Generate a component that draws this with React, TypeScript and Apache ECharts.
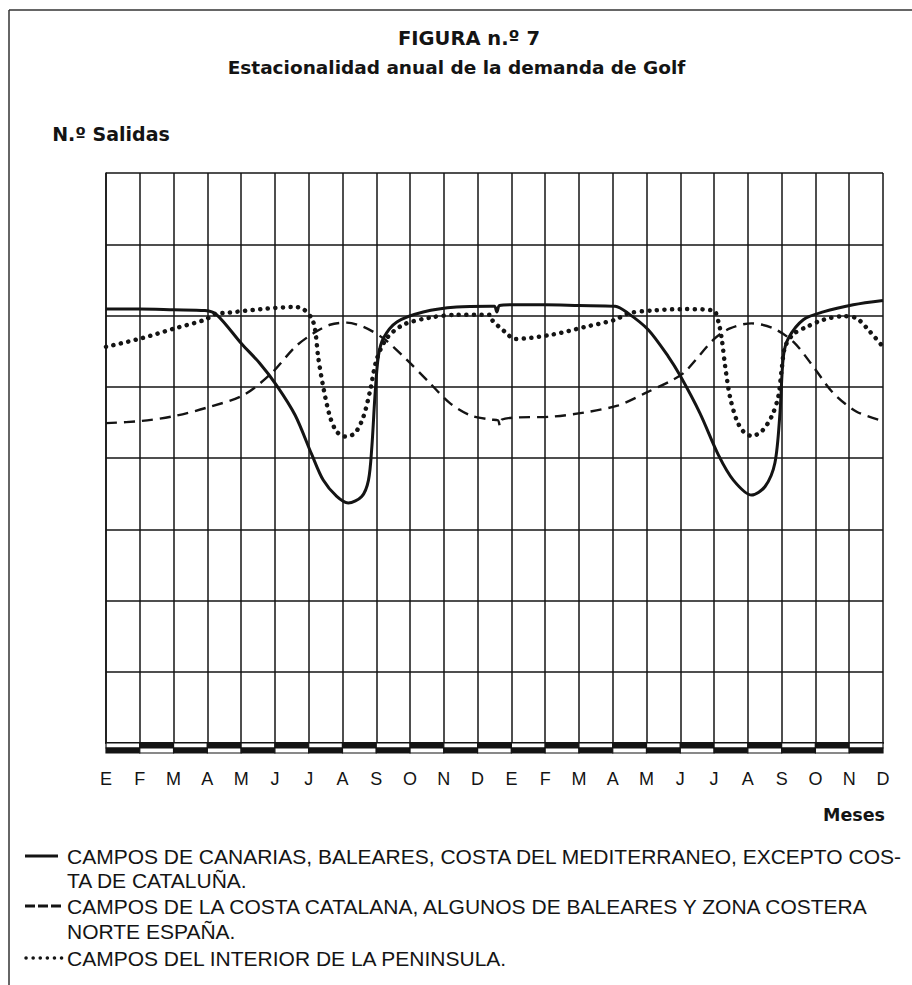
import React, { useEffect, useRef } from 'react';
import * as echarts from 'echarts';

// ---- Data ----
const months = ['E', 'F', 'M', 'A', 'M', 'J', 'J', 'A', 'S', 'O', 'N', 'D', 'E', 'F', 'M', 'A', 'M', 'J', 'J', 'A', 'S', 'O', 'N', 'D'];

// Month position (0 = first E, 23 = last D) and relative number of rounds
const canariasX = [0, 1, 2, 2.93, 3.28, 4.02, 4.55, 5.05, 5.6, 6.09, 6.43, 6.83, 7.17, 7.57, 7.77, 7.87, 7.96, 8.06, 8.21, 8.61, 9.39, 10.38, 11.37, 11.5, 11.57, 11.65, 12, 13, 14, 15.07, 15.46, 16.05, 16.65, 16.99, 17.58, 18.13, 18.57, 19.11, 19.51, 19.8, 19.95, 20.05, 20.2, 20.64, 21.23, 22.12, 23];
const canariasY = [6.09, 6.09, 6.08, 6.07, 6.01, 5.6, 5.33, 5.02, 4.6, 4.05, 3.69, 3.46, 3.37, 3.46, 3.69, 4.16, 4.86, 5.42, 5.68, 5.91, 6.05, 6.12, 6.13, 6.13, 6.05, 6.14, 6.15, 6.15, 6.14, 6.13, 6.03, 5.8, 5.42, 5.16, 4.63, 4.04, 3.69, 3.48, 3.6, 3.93, 4.63, 5.42, 5.68, 5.94, 6.05, 6.15, 6.21];

const catalanaX = [0, 1.05, 2.04, 3.08, 4.06, 4.9, 5.6, 6.14, 6.63, 7.13, 7.62, 8.21, 8.9, 9.59, 10.18, 10.78, 11.37, 11.6, 11.66, 11.72, 12.2, 13.19, 14.18, 15.17, 15.96, 16.75, 17.14, 17.98, 18.47, 19.11, 19.75, 20.35, 20.94, 21.53, 22.22, 23];
const catalanaY = [4.49, 4.52, 4.59, 4.72, 4.88, 5.19, 5.56, 5.75, 5.87, 5.9, 5.84, 5.68, 5.38, 5.05, 4.77, 4.6, 4.54, 4.53, 4.45, 4.54, 4.57, 4.58, 4.64, 4.74, 4.91, 5.09, 5.21, 5.66, 5.82, 5.89, 5.82, 5.63, 5.28, 4.91, 4.65, 4.52];

const interiorX = [0, 1.05, 2.04, 2.93, 3.23, 3.62, 4.61, 5.6, 5.84, 6.09, 6.19, 6.28, 6.43, 6.63, 6.83, 7.08, 7.37, 7.62, 7.82, 8.01, 8.31, 8.8, 9.59, 10.38, 11.37, 11.42, 11.81, 12.11, 13.19, 14.18, 15.07, 15.46, 16.15, 17.14, 17.98, 18.13, 18.23, 18.33, 18.47, 18.67, 18.87, 19.11, 19.4, 19.7, 19.9, 20.0, 20.1, 20.35, 20.74, 21.23, 21.82, 22.22, 22.62, 23];
const interiorY = [5.56, 5.68, 5.82, 5.94, 6.02, 6.04, 6.09, 6.12, 6.09, 5.96, 5.8, 5.42, 5.0, 4.58, 4.37, 4.3, 4.35, 4.58, 4.95, 5.38, 5.68, 5.87, 5.97, 6.01, 6.01, 5.94, 5.77, 5.67, 5.73, 5.84, 5.94, 6.03, 6.07, 6.09, 6.07, 5.91, 5.66, 5.28, 4.86, 4.53, 4.37, 4.31, 4.37, 4.58, 4.86, 5.24, 5.56, 5.74, 5.84, 5.94, 5.99, 5.96, 5.77, 5.56];

const bandSegments = Array.from({ length: 23 }, (_, i) => i);

const titleText = 'FIGURA n.º 7';
const subtitleText = 'Estacionalidad anual de la demanda de Golf';
const yAxisName = 'N.º Salidas';
const xAxisName = 'Meses';
const legendLines = [
  'CAMPOS DE CANARIAS, BALEARES, COSTA DEL MEDITERRANEO, EXCEPTO COS-',
  'TA DE CATALUÑA.',
  'CAMPOS DE LA COSTA CATALANA, ALGUNOS DE BALEARES Y ZONA COSTERA',
  'NORTE ESPAÑA.',
  'CAMPOS DEL INTERIOR DE LA PENINSULA.',
];
const seriesNames = [
  'Canarias, Baleares, Costa del Mediterráneo',
  'Costa Catalana, Baleares, Costa Norte',
  'Interior de la Península',
];

const pairs = (xs: number[], ys: number[]) => xs.map((x, i) => [x, ys[i]]);

const INK = '#141414';
const BOLD_FONT = '"DejaVu Sans", "Liberation Sans", sans-serif';
const FONT = '"Liberation Sans", Arial, sans-serif';

export default function App() {
  const ref = useRef<HTMLDivElement>(null);

  useEffect(() => {
    if (!ref.current) return;
    const chart = echarts.init(ref.current, undefined, { renderer: 'svg' });

    const legendX = 67;
    const legendYs = [856, 880, 906, 931, 958];

    const option: any = {
      animation: false,
      backgroundColor: '#ffffff',
      grid: { left: 106, top: 173, width: 777, height: 570, containLabel: false, outerBoundsMode: 'none' },
      xAxis: {
        type: 'value',
        min: 0,
        max: 23,
        interval: 1,
        axisLine: { show: true, lineStyle: { color: INK, width: 2 } },
        axisTick: { show: false },
        axisLabel: {
          margin: 27,
          color: INK,
          fontFamily: FONT,
          fontSize: 18,
          showMinLabel: true,
          showMaxLabel: true,
          formatter: (v: number) => months[Math.round(v)] ?? '',
        },
        splitLine: { show: true, lineStyle: { color: INK, width: 1.5 } },
      },
      yAxis: {
        type: 'value',
        min: 0,
        max: 8,
        interval: 1,
        name: yAxisName,
        nameLocation: 'end',
        nameGap: 30,
        nameTextStyle: { fontFamily: BOLD_FONT, fontWeight: 'bold', fontSize: 19, color: INK, padding: [0, 0, 0, 10] },
        axisLine: { show: true, lineStyle: { color: INK, width: 1.5 } },
        axisTick: { show: false },
        axisLabel: { show: false },
        splitLine: { show: true, lineStyle: { color: INK, width: 1.5 } },
      },
      series: [
        {
          name: seriesNames[1],
          type: 'line',
          data: pairs(catalanaX, catalanaY),
          showSymbol: false,
          smooth: 0.3,
          z: 3,
          lineStyle: { color: INK, width: 2.4, type: [11, 7] },
        },
        {
          name: seriesNames[2],
          type: 'line',
          data: pairs(interiorX, interiorY),
          showSymbol: false,
          smooth: 0.3,
          z: 4,
          lineStyle: { color: INK, width: 4.5, type: [0.1, 7.5], cap: 'round' },
        },
        {
          name: seriesNames[0],
          type: 'line',
          data: pairs(canariasX, canariasY),
          showSymbol: false,
          smooth: 0.3,
          z: 5,
          lineStyle: { color: INK, width: 3 },
        },
        {
          type: 'custom',
          coordinateSystem: 'cartesian2d',
          data: bandSegments.map((i) => [i, 0]),
          encode: { x: 0, y: 1 },
          clip: false,
          silent: true,
          z: 6,
          renderItem: (params: any, api: any) => {
            const i = api.value(0);
            const a = api.coord([i, 0]);
            const b = api.coord([i + 1, 0]);
            const half = 5;
            const odd = Math.round(i) % 2 === 1;
            return {
              type: 'group',
              children: [
                {
                  type: 'rect',
                  shape: { x: a[0], y: a[1], width: b[0] - a[0], height: half },
                  style: { fill: odd ? INK : '#ffffff', stroke: INK, lineWidth: 1.2 },
                },
                {
                  type: 'rect',
                  shape: { x: a[0], y: a[1] + half, width: b[0] - a[0], height: half },
                  style: { fill: odd ? '#ffffff' : INK, stroke: INK, lineWidth: 1.2 },
                },
              ],
            };
          },
        },
      ],
      graphic: [
        { type: 'line', shape: { x1: 9, y1: 10, x2: 912, y2: 10 }, style: { stroke: '#333', lineWidth: 1.5 } },
        { type: 'line', shape: { x1: 9, y1: 10, x2: 9, y2: 985 }, style: { stroke: '#333', lineWidth: 1.5 } },
        {
          type: 'text', x: 469, y: 38.5,
          style: { text: titleText, textAlign: 'center', textVerticalAlign: 'middle', fill: INK, font: `bold 19.5px ${BOLD_FONT}` },
        },
        {
          type: 'text', x: 456.5, y: 67,
          style: { text: subtitleText, textAlign: 'center', textVerticalAlign: 'middle', fill: INK, font: `bold 18.5px ${BOLD_FONT}` },
        },
        {
          type: 'text', x: 885, y: 815,
          style: { text: xAxisName, textAlign: 'right', textVerticalAlign: 'middle', fill: INK, font: `bold 17.5px ${BOLD_FONT}` },
        },
        // legend samples
        { type: 'line', shape: { x1: 25, y1: legendYs[0], x2: 58, y2: legendYs[0] }, style: { stroke: INK, lineWidth: 3 } },
        { type: 'line', shape: { x1: 25, y1: legendYs[2], x2: 63, y2: legendYs[2] }, style: { stroke: INK, lineWidth: 3, lineDash: [10, 3] } },
        { type: 'line', shape: { x1: 26, y1: legendYs[4], x2: 65, y2: legendYs[4] }, style: { stroke: INK, lineWidth: 3.5, lineDash: [0.1, 7], lineCap: 'round' } },
        ...legendLines.map((t, k) => ({
          type: 'text', x: legendX, y: legendYs[k],
          style: { text: t, textAlign: 'left', textVerticalAlign: 'middle', fill: INK, font: `21px ${FONT}` },
        })),
      ],
    };

    chart.setOption(option);
    return () => chart.dispose();
  }, []);

  return (
    <div
      ref={ref}
      style={{ position: 'absolute', left: 0, top: 0, width: 912, height: 985, background: '#fff' }}
    />
  );
}
